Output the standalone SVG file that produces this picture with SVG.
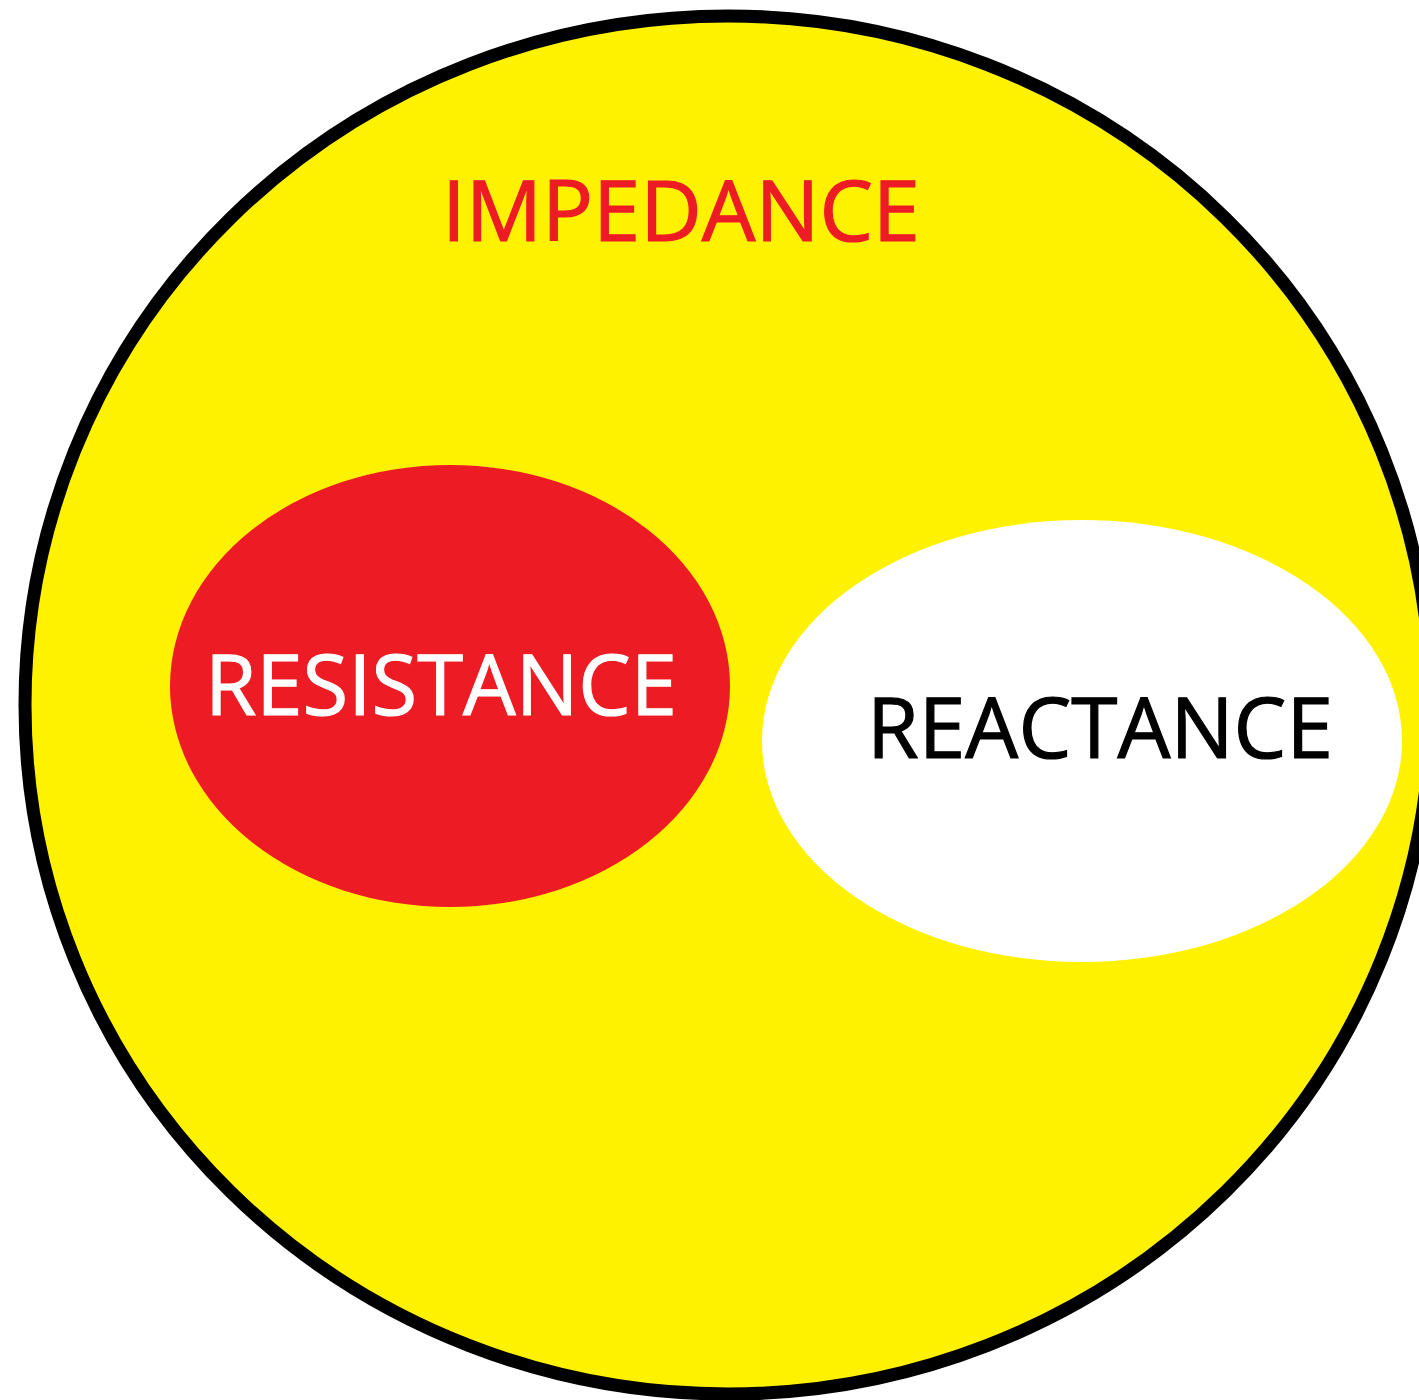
<svg xmlns="http://www.w3.org/2000/svg" width="1419" height="1400" viewBox="0 0 1419 1400">
<style>
.lbl{font-family:"Open Sans","Liberation Sans",sans-serif;font-size:84px;stroke-width:1.2px;}
</style>
<rect width="1419" height="1400" fill="#ffffff"/>
<g id="impedance">
<ellipse cx="728" cy="705" rx="703" ry="689" fill="#FFF200" stroke="#000000" stroke-width="13"/>
<text class="lbl" x="442" y="241" fill="#ED1C24" stroke="#ED1C24" textLength="478" lengthAdjust="spacingAndGlyphs">IMPEDANCE</text>
</g>
<g id="resistance">
<ellipse cx="450" cy="686" rx="280" ry="221" fill="#ED1C24"/>
<text class="lbl" x="205" y="715" fill="#ffffff" stroke="#ffffff" textLength="472" lengthAdjust="spacingAndGlyphs">RESISTANCE</text>
</g>
<g id="reactance">
<ellipse cx="1082" cy="741" rx="320" ry="221" fill="#ffffff"/>
<text class="lbl" x="867" y="758" fill="#000000" stroke="#000000" textLength="466" lengthAdjust="spacingAndGlyphs">REACTANCE</text>
</g>
<g id="connectors"/>
</svg>
